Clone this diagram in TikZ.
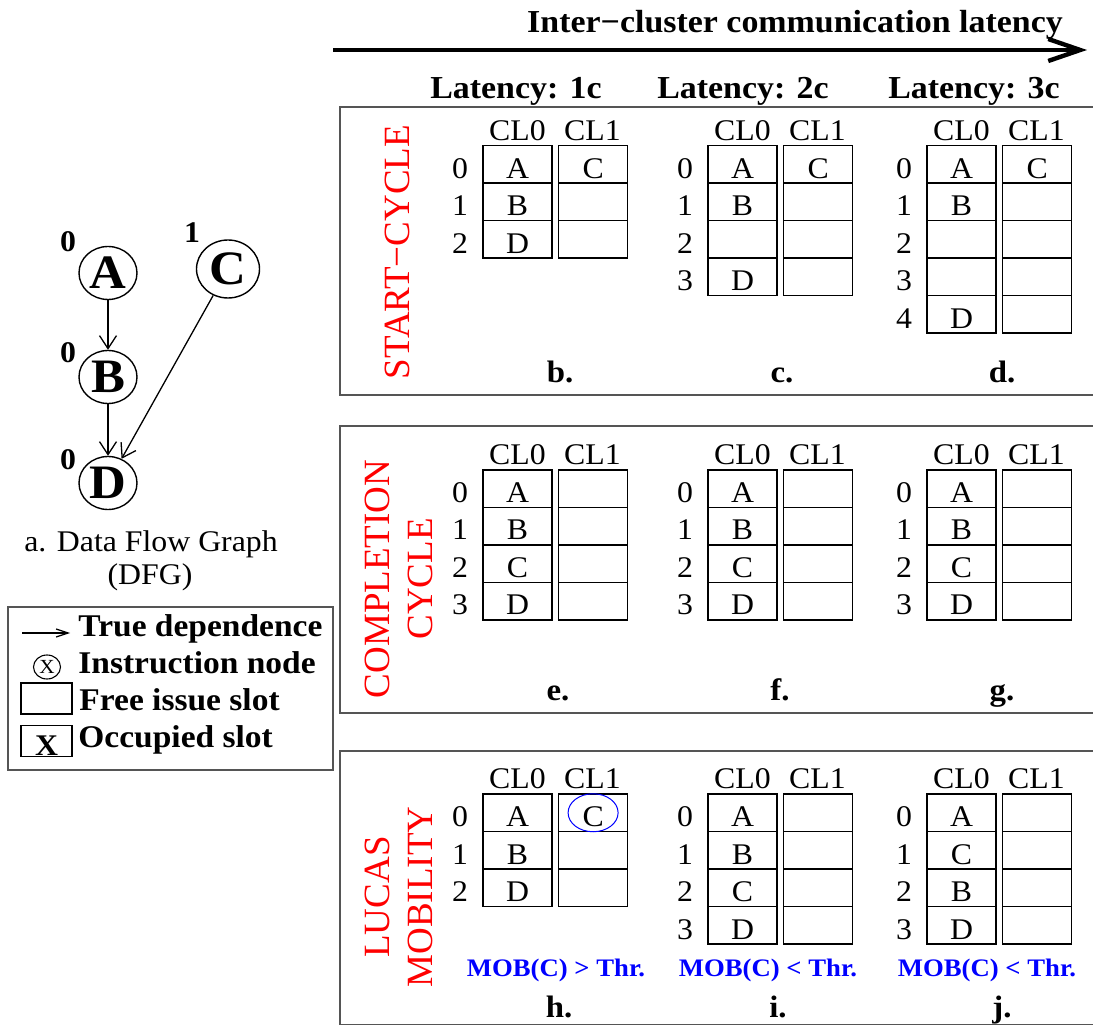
\documentclass[tikz,border=0pt]{standalone}
\usepackage{fontspec}
\setmainfont{Liberation Serif}[FakeStretch=1.06]
\newfontfamily\tagfont{Liberation Serif}
\usetikzlibrary{positioning,arrows.meta,shapes.geometric}

\definecolor{tagred}{RGB}{255,0,0}
\definecolor{mobblue}{RGB}{0,0,255}
\definecolor{framegray}{RGB}{85,85,85}

% one schedule table: name, left x of CL0, top y of row 0, rows as CL0/CL1
\newcommand{\slottable}[4]{
	\node[cltitle] (#1-cl0) at ({#2+34.5},{#3-5.5}) {CL0};
	\node[cltitle] (#1-cl1) at ({#2+109.5},{#3-5.5}) {CL1};
	\foreach \ca/\cb [count=\r from 0] in {#4} {
		\node[slot] (#1-\r-0) at ({#2+34.5},{#3+18.75+37.5*\r}) {\ca};
		\node[slot,right=2.6pt of #1-\r-0] (#1-\r-1) {\cb};
		\node[rownum] (#1-n\r) at ({#2-23},{#3+32.5+37.5*\r}) {\r};
	}
}

\begin{document}
\begin{tikzpicture}[x=0.5pt,y=-0.5pt]
	\tikzset{
		slot/.style={draw, line width=0.7pt, minimum width=34.5pt, minimum height=18.75pt,
			inner sep=0pt, text height=16.25pt, text depth=2.5pt, font=\fontsize{15}{17}\selectfont},
		cltitle/.style={anchor=base, inner sep=0pt, font=\fontsize{15}{17}\selectfont},
		rownum/.style={anchor=base, inner sep=0pt, font=\fontsize{15}{17}\selectfont},
		sidetag/.style={rotate=90, text=tagred, align=center, inner sep=0pt,
			font=\tagfont\fontsize{18.5}{21.5}\selectfont},
		paneltag/.style={anchor=base, inner sep=0pt, font=\bfseries\fontsize{15.5}{18}\selectfont},
		mobnote/.style={anchor=base, inner sep=0pt, text=mobblue, font=\bfseries\fontsize{12.6}{15}\selectfont},
		headtext/.style={anchor=base, inner sep=0pt, font=\bfseries\fontsize{16}{18}\selectfont},
		opnode/.style={draw, ellipse, line width=0.7pt, minimum width=29pt, minimum height=26.5pt,
			inner sep=0pt, font=\bfseries\fontsize{24}{26}\selectfont},
		weight/.style={anchor=base, inner sep=0pt, font=\bfseries\fontsize{15}{17}\selectfont},
		dfgcap/.style={anchor=base, inner sep=0pt, font=\fontsize{15}{17}\selectfont},
		legtext/.style={anchor=base west, inner sep=0pt, font=\bfseries\fontsize{15.8}{18}\selectfont},
		dep/.style={-{Straight Barb[length=6.5pt,width=8.5pt]}, line width=0.65pt},
		panelframe/.style={draw=framegray, line width=0.9pt}
	}
	\useasboundingbox (0,0) rectangle (1093,1026);

	% latency axis
	\coordinate (lat-s) at (333,50);
	\coordinate (lat-e) at (1087,50);
	\draw[line width=2.2pt, -{Straight Barb[length=16pt,width=11pt]}] (lat-s) -- (lat-e);
	\node[headtext] (lat-title) at (795,33) {Inter−cluster communication latency};
	\node[headtext] (lat1) at (516,99) {Latency: 1c};
	\node[headtext] (lat2) at (743,99) {Latency: 2c};
	\node[headtext] (lat3) at (974,99) {Latency: 3c};

	% panels
	\draw[panelframe] (1093,107) -| (340,395) -- (1093,395);
	\draw[panelframe] (1093,426) -| (340,713) -- (1093,713);
	\draw[panelframe] (1093,751) -| (340,1024.5) -- (1093,1024.5);

	\node[sidetag] (start-tag) at (397,252) {START−CYCLE};
	\node[sidetag] (compl-tag) at (398.5,579) {COMPLETION\\CYCLE};
	\node[sidetag] (lucas-tag) at (398.5,897) {LUCAS\\MOBILITY};

	% start-cycle
	\slottable{b}{483}{145.7}{A/C,B/{},D/{}}
	\slottable{c}{708}{145.7}{A/C,B/{},{}/{},D/{}}
	\slottable{d}{927}{145.7}{A/C,B/{},{}/{},{}/{},D/{}}
	\node[paneltag] (b-lbl) at (560,383) {b.};
	\node[paneltag] (c-lbl) at (782,383) {c.};
	\node[paneltag] (d-lbl) at (1002,383) {d.};

	% completion cycle
	\slottable{e}{483}{470}{A/{},B/{},C/{},D/{}}
	\slottable{f}{708}{470}{A/{},B/{},C/{},D/{}}
	\slottable{g}{927}{470}{A/{},B/{},C/{},D/{}}
	\node[paneltag] (e-lbl) at (558,700) {e.};
	\node[paneltag] (f-lbl) at (780,700) {f.};
	\node[paneltag] (g-lbl) at (1002,700) {g.};

	% lucas mobility
	\slottable{h}{483}{794}{A/C,B/{},D/{}}
	\slottable{i}{708}{794}{A/{},B/{},C/{},D/{}}
	\slottable{j}{927}{794}{A/{},C/{},B/{},D/{}}
	\node[draw=mobblue, ellipse, line width=0.5pt, minimum width=25pt, minimum height=19pt] (h-ring) at (h-0-1) {};
	\node[mobnote] (h-mob) at (556,976) {MOB(C) > Thr.};
	\node[mobnote] (i-mob) at (768,976) {MOB(C) < Thr.};
	\node[mobnote] (j-mob) at (987,976) {MOB(C) < Thr.};
	\node[paneltag] (h-lbl) at (559,1017) {h.};
	\node[paneltag] (i-lbl) at (778,1017) {i.};
	\node[paneltag] (j-lbl) at (1002,1017) {j.};

	% data flow graph
	\node[opnode] (A) at (108,273) {A};
	\node[opnode] (B) at (108,377) {B};
	\node[opnode] (D) at (108,483) {D};
	\node[opnode, minimum width=31.5pt, minimum height=29pt] (C) at (228,269) {C};
	\node[weight] (wA) at (68,252) {0};
	\node[weight] (wC) at (192,243) {1};
	\node[weight] (wB) at (68,363) {0};
	\node[weight] (wD) at (68,470) {0};
	\draw[dep] (A) -- (B);
	\draw[dep] (B) -- (D);
	\draw[dep] (C) -- (D);
	\node[dfgcap] (dfg-cap) at (151,552) {a. Data Flow Graph};
	\node[dfgcap] (dfg-cap2) at (150,585) {(DFG)};

	% legend
	\draw[panelframe] (8,607) rectangle (333,770);
	\coordinate (leg-a1) at (22,633);
	\coordinate (leg-a2) at (70,633);
	\draw[-{Straight Barb[length=6pt,width=4pt]}, line width=0.6pt] (leg-a1) -- (leg-a2);
	\node[draw, ellipse, line width=0.55pt, minimum width=13.5pt, minimum height=12pt, inner sep=0pt,
		font=\fontsize{10}{10}\selectfont] (leg-op) at (47,667) {X};
	\node[draw, line width=0.7pt, minimum width=25.5pt, minimum height=15.5pt, inner sep=0pt] (leg-free) at (46.5,698.5) {};
	\node[draw, line width=0.7pt, minimum width=25.5pt, minimum height=15.5pt, inner sep=0pt,
		text height=15pt, text depth=0.5pt, font=\bfseries\fontsize{15}{15}\selectfont] (leg-occ) at (46.5,741) {X};
	\node[legtext] (leg-t1) at (78,637) {True dependence};
	\node[legtext] (leg-t2) at (78,673) {Instruction node};
	\node[legtext] (leg-t3) at (79,710) {Free issue slot};
	\node[legtext] (leg-t4) at (78,747) {Occupied slot};
\end{tikzpicture}
\end{document}
